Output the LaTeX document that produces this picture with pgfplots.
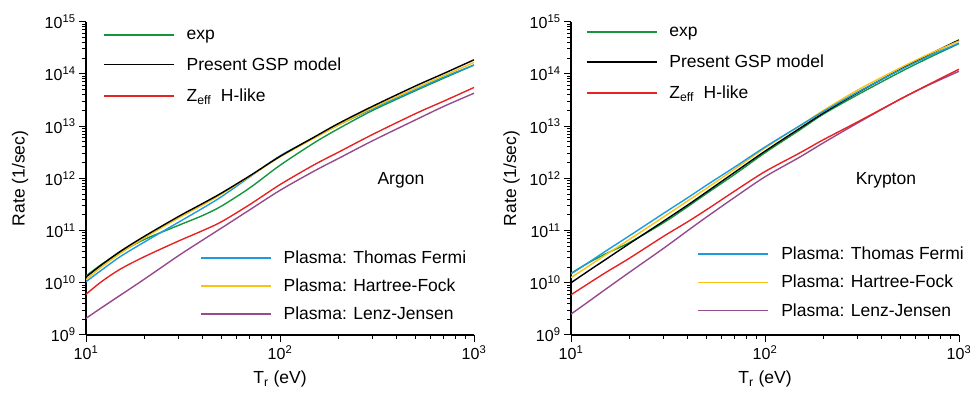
\documentclass[border=0pt]{standalone}
\usepackage{pgfplots}
\pgfplotsset{compat=1.18}
\usepackage{pgfplotstable}
\usepackage{fontspec}
\setmainfont{Liberation Sans}

\definecolor{cexp}{RGB}{20,150,60}
\definecolor{cgsp}{RGB}{0,0,0}
\definecolor{czeff}{RGB}{230,35,35}
\definecolor{ctf}{RGB}{30,155,220}
\definecolor{chf}{RGB}{250,195,20}
\definecolor{clj}{RGB}{150,75,140}

% Argon
\pgfplotstableread{
T    exp       gsp       zeff      tf        hf        lj
10   1.349e10  1.288e10  6.026e9   1.047e10  1.148e10  2.089e9
12   2.239e10  2.188e10  1.047e10  1.738e10  1.995e10  3.311e9
15   3.802e10  3.981e10  1.820e10  3.162e10  3.631e10  5.754e9
20   6.761e10  7.762e10  3.162e10  6.026e10  7.244e10  1.175e10
30   1.259e11  1.862e11  6.310e10  1.445e11  1.738e11  3.311e10
40   1.950e11  3.311e11  1.0e11    2.692e11  3.090e11  6.607e10
50   2.951e11  5.248e11  1.479e11  4.467e11  5.012e11  1.122e11
70   6.607e11  1.122e12  3.162e11  1.072e12  1.096e12  2.512e11
100  1.778e12  2.630e12  7.586e11  2.692e12  2.570e12  5.888e11
150  4.786e12  6.166e12  1.820e12  6.026e12  5.888e12  1.380e12
200  8.913e12  1.122e13  3.162e12  1.047e13  1.047e13  2.399e12
300  1.995e13  2.399e13  6.918e12  2.138e13  2.239e13  5.248e12
500  4.786e13  5.888e13  1.738e13  5.012e13  5.370e13  1.318e13
700  8.318e13  1.023e14  3.020e13  8.710e13  9.333e13  2.399e13
1000 1.479e14  1.862e14  5.495e13  1.479e14  1.660e14  4.266e13
}\argon

% Krypton
\pgfplotstableread{
T    exp       gsp       zeff      tf        hf        lj
10   1.514e10  1.0e10    5.888e9   1.479e10  1.259e10  2.512e9
12   2.291e10  1.585e10  9.120e9   2.291e10  1.950e10  4.074e9
15   3.548e10  2.754e10  1.549e10  3.981e10  3.388e10  7.413e9
20   5.888e10  5.623e10  2.951e10  7.943e10  6.761e10  1.585e10
30   1.413e11  1.514e11  7.762e10  2.138e11  1.820e11  4.571e10
40   2.884e11  3.090e11  1.479e11  4.266e11  3.715e11  1.0e11
50   5.129e11  5.495e11  2.512e11  7.413e11  6.457e11  1.820e11
70   1.202e12  1.318e12  5.754e11  1.660e12  1.514e12  4.365e11
100  3.090e12  3.311e12  1.349e12  3.981e12  3.802e12  1.072e12
150  8.318e12  8.913e12  3.020e12  1.0e13    1.0e13    2.512e12
200  1.698e13  1.778e13  5.495e12  1.905e13  1.995e13  4.786e12
300  3.981e13  4.365e13  1.202e13  4.467e13  4.898e13  1.148e13
500  1.096e14  1.230e14  3.311e13  1.202e14  1.318e14  3.311e13
700  2.042e14  2.344e14  6.310e13  2.188e14  2.399e14  6.166e13
1000 3.802e14  4.467e14  1.230e14  3.890e14  4.266e14  1.122e14
}\krypton

\pgfplotsset{
  log number format basis/.code 2 args={#1\textsuperscript{\pgfmathprintnumber{#2}}},
  legend image code/.code={\draw[#1] (0pt,0pt) -- (70pt,0pt);},
}

\begin{document}
\begin{tikzpicture}
\path[use as bounding box] (-86pt,-57pt) rectangle (884pt,335pt);

% ---------- Argon ----------
\begin{axis}[at={(0pt,0pt)}, anchor=south west,
    xmode=log, ymode=log, log basis x=10, log basis y=10,
    scale only axis, width=388pt, height=313.3pt,
    xmin=10, xmax=1000, ymin=1e9, ymax=1e15,
    axis x line*=bottom, axis y line*=left,
    axis line style={line width=1.3pt},
    tick style={black, line width=1pt},
    tick align=outside,
    major tick length=7pt, minor tick length=4pt,
    /pgf/number format/assume math mode=true,
    tick label style={font=\fontsize{16}{18}\selectfont},
    xlabel={T\textsubscript{r} (eV)},
    ylabel={Rate (1/sec)},
    every axis x label/.style={at={(axis description cs:0.5,0)}, anchor=center, yshift=-44pt, font=\fontsize{17.5}{20}\selectfont},
    every axis y label/.style={at={(axis description cs:-0.170,0.5)}, rotate=90, anchor=center, font=\fontsize{17.5}{20}\selectfont},
    legend cell align=left,
    legend style={draw=none, fill=none, inner sep=0pt, outer sep=0pt,
      font=\fontsize{17.5}{20}\selectfont, row sep=13pt,
      /tikz/every odd column/.append style={column sep=10pt},
      at={(0.044,0.981)}, anchor=north west},
  ]
\addlegendimage{cexp, line width=1.6pt}\addlegendentry{exp}
\addlegendimage{cgsp, line width=1.6pt}\addlegendentry{Present GSP model}
\addlegendimage{czeff, line width=1.6pt}\addlegendentry{Z\textsubscript{eff}\ \ H-like}
\addplot[clj, line width=1.4pt, smooth, forget plot] table[x=T, y=lj] {\argon};
\addplot[czeff, line width=1.4pt, smooth, forget plot] table[x=T, y=zeff] {\argon};
\addplot[cexp, line width=1.4pt, smooth, forget plot] table[x=T, y=exp] {\argon};
\addplot[ctf, line width=1.4pt, smooth, forget plot] table[x=T, y=tf] {\argon};
\addplot[chf, line width=1.4pt, smooth, forget plot] table[x=T, y=hf] {\argon};
\addplot[cgsp, line width=1.4pt, smooth, forget plot] table[x=T, y=gsp] {\argon};
\node[font=\fontsize{17.5}{20}\selectfont] at (axis cs:420,9.3e11) {Argon};
\end{axis}
\begin{axis}[at={(0pt,0pt)}, anchor=south west,
    xmode=log, ymode=log, scale only axis, width=388pt, height=313.3pt,
    xmin=10, xmax=1000, ymin=1e9, ymax=1e15, hide axis,
    legend cell align=left,
    legend style={draw=none, fill=none, inner sep=0pt, outer sep=0pt,
      font=\fontsize{17.5}{20}\selectfont, row sep=10pt,
      /tikz/every odd column/.append style={column sep=10pt},
      at={(0.294,0.275)}, anchor=north west},
  ]
\addlegendimage{ctf, line width=1.6pt}\addlegendentry{Plasma: Thomas Fermi}
\addlegendimage{chf, line width=1.6pt}\addlegendentry{Plasma: Hartree-Fock}
\addlegendimage{clj, line width=1.6pt}\addlegendentry{Plasma: Lenz-Jensen}
\end{axis}

% ---------- Krypton ----------
\begin{axis}[at={(485pt,0pt)}, anchor=south west,
    xmode=log, ymode=log, log basis x=10, log basis y=10,
    scale only axis, width=388pt, height=313.3pt,
    xmin=10, xmax=1000, ymin=1e9, ymax=1e15,
    axis x line*=bottom, axis y line*=left,
    axis line style={line width=1.3pt},
    tick style={black, line width=1pt},
    tick align=outside,
    major tick length=7pt, minor tick length=4pt,
    /pgf/number format/assume math mode=true,
    tick label style={font=\fontsize{16}{18}\selectfont},
    xlabel={T\textsubscript{r} (eV)},
    ylabel={Rate (1/sec)},
    every axis x label/.style={at={(axis description cs:0.5,0)}, anchor=center, yshift=-44pt, font=\fontsize{17.5}{20}\selectfont},
    every axis y label/.style={at={(axis description cs:-0.153,0.5)}, rotate=90, anchor=center, font=\fontsize{17.5}{20}\selectfont},
    legend cell align=left,
    legend style={draw=none, fill=none, inner sep=0pt, outer sep=0pt,
      font=\fontsize{17.5}{20}\selectfont, row sep=13pt,
      /tikz/every odd column/.append style={column sep=10pt},
      at={(0.038,0.99)}, anchor=north west},
  ]
\addlegendimage{cexp, line width=1.6pt}\addlegendentry{exp}
\addlegendimage{cgsp, line width=1.6pt}\addlegendentry{Present GSP model}
\addlegendimage{czeff, line width=1.6pt}\addlegendentry{Z\textsubscript{eff}\ \ H-like}
\addplot[clj, line width=1.4pt, smooth, forget plot] table[x=T, y=lj] {\krypton};
\addplot[czeff, line width=1.4pt, smooth, forget plot] table[x=T, y=zeff] {\krypton};
\addplot[cexp, line width=1.4pt, smooth, forget plot] table[x=T, y=exp] {\krypton};
\addplot[cgsp, line width=1.4pt, smooth, forget plot] table[x=T, y=gsp] {\krypton};
\addplot[chf, line width=1.4pt, smooth, forget plot] table[x=T, y=hf] {\krypton};
\addplot[ctf, line width=1.4pt, smooth, forget plot] table[x=T, y=tf] {\krypton};
\node[font=\fontsize{17.5}{20}\selectfont] at (axis cs:420,9.3e11) {Krypton};
\end{axis}
\begin{axis}[at={(485pt,0pt)}, anchor=south west,
    xmode=log, ymode=log, scale only axis, width=388pt, height=313.3pt,
    xmin=10, xmax=1000, ymin=1e9, ymax=1e15, hide axis,
    legend cell align=left,
    legend style={draw=none, fill=none, inner sep=0pt, outer sep=0pt,
      font=\fontsize{17.5}{20}\selectfont, row sep=10pt,
      /tikz/every odd column/.append style={column sep=10pt},
      at={(0.3265,0.287)}, anchor=north west},
  ]
\addlegendimage{ctf, line width=1.6pt}\addlegendentry{Plasma: Thomas Fermi}
\addlegendimage{chf, line width=1.6pt}\addlegendentry{Plasma: Hartree-Fock}
\addlegendimage{clj, line width=1.6pt}\addlegendentry{Plasma: Lenz-Jensen}
\end{axis}
\end{tikzpicture}
\end{document}
